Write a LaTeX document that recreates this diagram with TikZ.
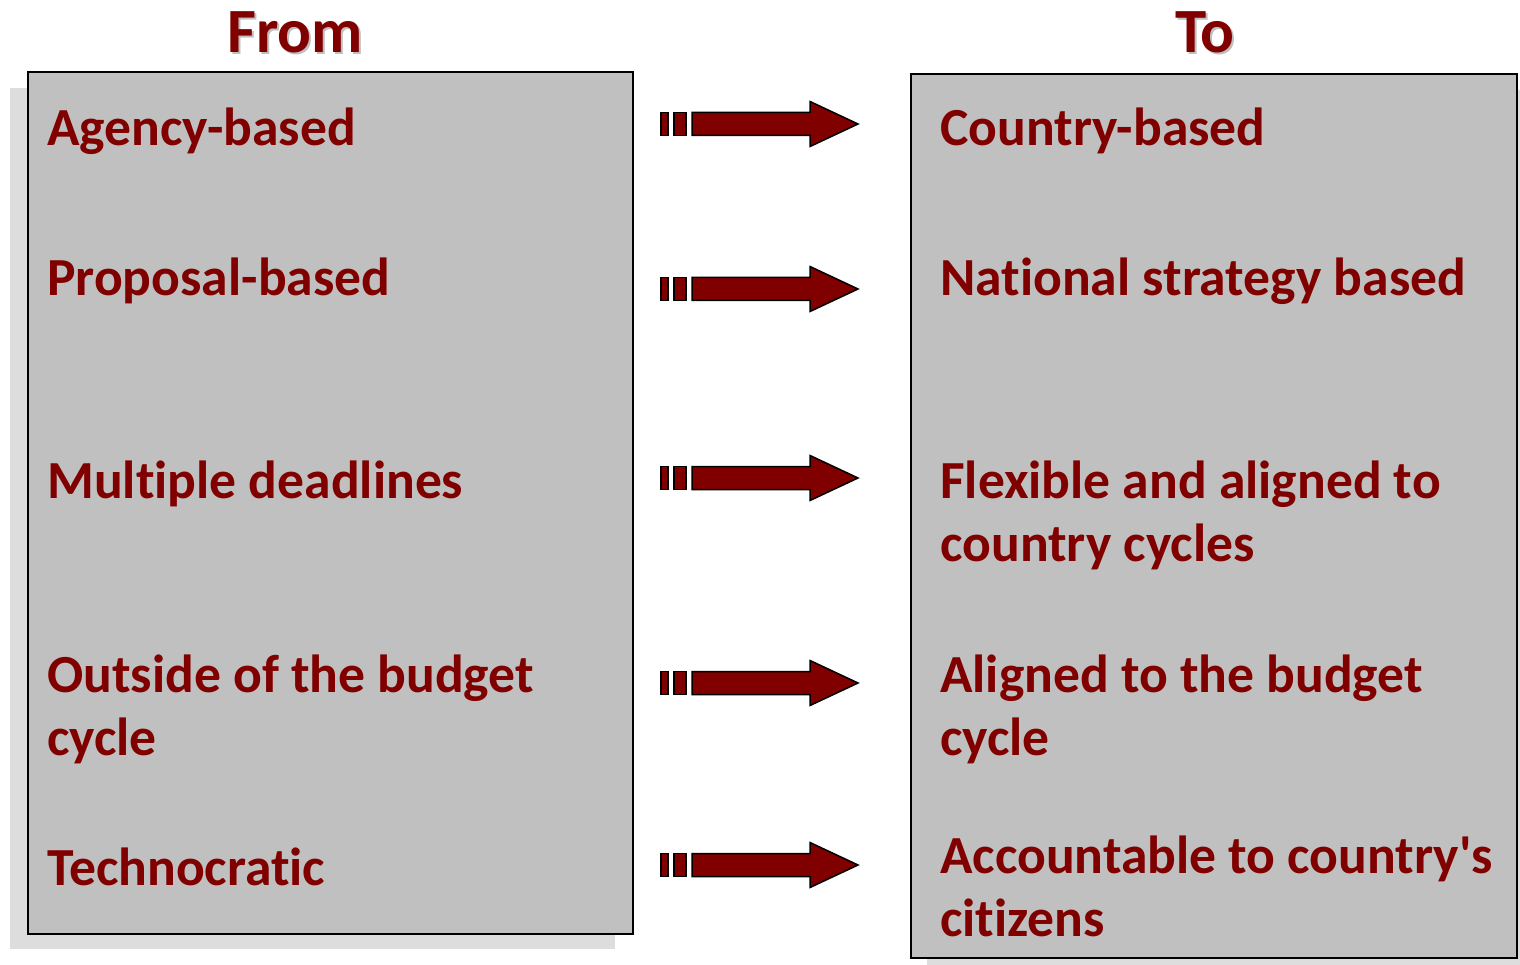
\documentclass[tikz,border=0pt]{standalone}
\usepackage{fontspec}
\setmainfont{Carlito}[Ligatures={TeX,NoCommon}]
\usetikzlibrary{positioning}
\definecolor{granate}{HTML}{800000}
\definecolor{gris}{HTML}{C0C0C0}
\definecolor{sombra}{HTML}{DDDDDD}
\tikzstyle{caja}=[rectangle,draw=black,line width=2,fill=gris,anchor=north west,inner sep=0]
\tikzstyle{item}=[anchor=base west,inner sep=0,align=left,text=granate,font=\fontsize{53.6}{63}\selectfont\bfseries]
\tikzstyle{titulo}=[anchor=base,inner sep=0,text=granate,font=\fontsize{63}{70}\selectfont\bfseries]
\tikzstyle{flecha}=[draw=black,line width=1.5,fill=granate]

\begin{document}
\begin{tikzpicture}[x=1pt,y=-1pt]
	\useasboundingbox (0,0) rectangle (1520,965);
	% sombras
	\fill[sombra] (10,88) rectangle (615,949);
	\fill[sombra] (927,90) rectangle (1520,965);
	\node[caja,minimum width=605,minimum height=862] (desde) at (27,71) {};
	\node[caja,minimum width=606,minimum height=884] (hacia) at (910,73) {};
	% titulos
	\node[titulo,text=black!25] at (297,55) {From};
	\node[titulo] (from) at (295,53) {From};
	\node[titulo,text=black!25] at (1207,55) {To};
	\node[titulo] (to) at (1205,53) {To};
	% columna izquierda (base = ultima linea)
	\node[item] (agency) at (47,146) {Agency-based};
	\node[item] (proposal) at (47,296) {Proposal-based};
	\node[item] (multiple) at (47,498) {Multiple deadlines};
	\node[item] (outside) at (47,755) {Outside of the budget\\cycle};
	\node[item] (techno) at (47,885) {Technocratic};
	% columna derecha
	\node[item] (country) at (940,146) {Country-based};
	\node[item] (national) at (940,296) {National strategy based};
	\node[item] (flexible) at (940,561) {Flexible and aligned to\\country cycles};
	\node[item] (aligned) at (940,755) {Aligned to the budget\\cycle};
	\node[item] (account) at (940,936) {Accountable to country\textquotesingle s\\citizens};
	% flechas
	\foreach \y in {124,289,478,683,865}{
		\begin{scope}[yshift=-\y]
			\filldraw[flecha] (661,-11.5) rectangle (668,11.5);
			\filldraw[flecha] (674,-11.5) rectangle (686,11.5);
			\filldraw[flecha] (692,-11.5) -- (810,-11.5) -- (810,-22.5) -- (858,0) -- (810,22.5) -- (810,11.5) -- (692,11.5) -- cycle;
		\end{scope}
	}
\end{tikzpicture}
\end{document}
